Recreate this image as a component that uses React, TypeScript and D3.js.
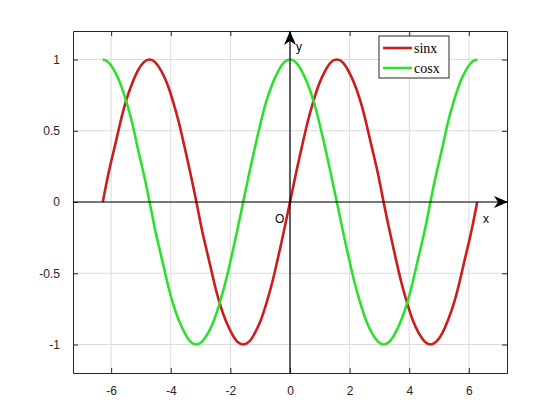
import { useEffect, useRef } from 'react';
import * as d3 from 'd3';

// sample points, step ~ pi/16
const xVals = [
  -6.28, -6.09, -5.89, -5.69, -5.5, -5.3, -5.11, -4.91, -4.71, -4.52, -4.32, -4.12, -3.93, -3.73, -3.53, -3.34,
  -3.14, -2.95, -2.75, -2.55, -2.36, -2.16, -1.96, -1.77, -1.57, -1.37, -1.18, -0.98, -0.79, -0.59, -0.39, -0.2,
  0, 0.2, 0.39, 0.59, 0.79, 0.98, 1.18, 1.37, 1.57, 1.77, 1.96, 2.16, 2.36, 2.55, 2.75, 2.95,
  3.14, 3.34, 3.53, 3.73, 3.93, 4.12, 4.32, 4.52, 4.71, 4.91, 5.11, 5.3, 5.5, 5.69, 5.89, 6.09, 6.28];
const sinVals = [
  0, 0.2, 0.38, 0.56, 0.71, 0.83, 0.92, 0.98, 1, 0.98, 0.92, 0.83, 0.71, 0.56, 0.38, 0.2,
  0, -0.2, -0.38, -0.56, -0.71, -0.83, -0.92, -0.98, -1, -0.98, -0.92, -0.83, -0.71, -0.56, -0.38, -0.2,
  0, 0.2, 0.38, 0.56, 0.71, 0.83, 0.92, 0.98, 1, 0.98, 0.92, 0.83, 0.71, 0.56, 0.38, 0.2,
  0, -0.2, -0.38, -0.56, -0.71, -0.83, -0.92, -0.98, -1, -0.98, -0.92, -0.83, -0.71, -0.56, -0.38, -0.2, 0];
const cosVals = [
  1, 0.98, 0.92, 0.83, 0.71, 0.56, 0.38, 0.2, 0, -0.2, -0.38, -0.56, -0.71, -0.83, -0.92, -0.98,
  -1, -0.98, -0.92, -0.83, -0.71, -0.56, -0.38, -0.2, 0, 0.2, 0.38, 0.56, 0.71, 0.83, 0.92, 0.98,
  1, 0.98, 0.92, 0.83, 0.71, 0.56, 0.38, 0.2, 0, -0.2, -0.38, -0.56, -0.71, -0.83, -0.92, -0.98,
  -1, -0.98, -0.92, -0.83, -0.71, -0.56, -0.38, -0.2, 0, 0.2, 0.38, 0.56, 0.71, 0.83, 0.92, 0.98, 1];
const xTicks = [-6, -4, -2, 0, 2, 4, 6];
const yTicks = [-1, -0.5, 0, 0.5, 1];
const seriesNames = ['sinx', 'cosx'];
const seriesColors = ['#cc1c1c', '#2ee02e'];

type Pt = { x: number; s: number; c: number };

const App = () => {
  const svgRef = useRef<SVGSVGElement>(null);

  useEffect(() => {
    if (!svgRef.current) return;
    const width = 560;
    const height = 420;
    const margin = { top: 31, right: 53, bottom: 47, left: 73 };
    const innerWidth = width - margin.left - margin.right;
    const innerHeight = height - margin.top - margin.bottom;

    d3.select(svgRef.current).selectAll('*').remove();
    const root = d3.select(svgRef.current).attr('width', width).attr('height', height);
    root.append('rect').attr('width', width).attr('height', height).attr('fill', '#fff');

    const defs = root.append('defs');
    defs.append('marker')
      .attr('id', 'arrow')
      .attr('viewBox', '0 0 14 12')
      .attr('refX', 14)
      .attr('refY', 6)
      .attr('markerWidth', 14)
      .attr('markerHeight', 12)
      .attr('markerUnits', 'userSpaceOnUse')
      .attr('orient', 'auto')
      .append('path')
      .attr('d', 'M0,0 L14,6 L0,12 L4,6 Z')
      .attr('fill', '#000');

    const svg = root.append('g').attr('transform', `translate(${margin.left},${margin.top})`);

    const xScale = d3.scaleLinear().domain([-7.28, 7.28]).range([0, innerWidth]);
    const yScale = d3.scaleLinear().domain([-1.2, 1.2]).range([innerHeight, 0]);

    // grid
    svg.append('g')
      .selectAll('line')
      .data(xTicks)
      .enter()
      .append('line')
      .attr('x1', d => xScale(d)).attr('x2', d => xScale(d))
      .attr('y1', 0).attr('y2', innerHeight)
      .attr('stroke', '#dcdcdc').attr('stroke-width', 1);
    svg.append('g')
      .selectAll('line')
      .data(yTicks)
      .enter()
      .append('line')
      .attr('y1', d => yScale(d)).attr('y2', d => yScale(d))
      .attr('x1', 0).attr('x2', innerWidth)
      .attr('stroke', '#dcdcdc').attr('stroke-width', 1);

    // axes with inward ticks, box on
    const styleAxis = (g: d3.Selection<SVGGElement, unknown, null, undefined>) => {
      g.select('.domain').attr('stroke', '#262626');
      g.selectAll('.tick line').attr('stroke', '#262626');
      g.selectAll('text').attr('fill', '#262626').style('font-family', 'Liberation Sans, Arial, sans-serif').style('font-size', '12px');
    };
    svg.append('g')
      .attr('transform', `translate(0,${innerHeight})`)
      .call(d3.axisBottom(xScale).tickValues(xTicks).tickSizeInner(-5).tickSizeOuter(0).tickPadding(13).tickFormat(d => String(d)))
      .call(styleAxis);
    svg.append('g')
      .call(d3.axisTop(xScale).tickValues(xTicks).tickSizeInner(-5).tickSizeOuter(0).tickFormat(() => ''))
      .call(styleAxis);
    svg.append('g')
      .call(d3.axisLeft(yScale).tickValues(yTicks).tickSizeInner(-5).tickSizeOuter(0).tickPadding(13).tickFormat(d => String(d)))
      .call(styleAxis);
    svg.append('g')
      .attr('transform', `translate(${innerWidth},0)`)
      .call(d3.axisRight(yScale).tickValues(yTicks).tickSizeInner(-5).tickSizeOuter(0).tickFormat(() => ''))
      .call(styleAxis);

    // curves
    const points: Pt[] = xVals.map((x, i) => ({ x, s: sinVals[i], c: cosVals[i] }));
    const sinLine = d3.line<Pt>().x(d => xScale(d.x)).y(d => yScale(d.s)).curve(d3.curveNatural);
    const cosLine = d3.line<Pt>().x(d => xScale(d.x)).y(d => yScale(d.c)).curve(d3.curveNatural);
    svg.append('path').datum(points).attr('fill', 'none').attr('stroke', seriesColors[0]).attr('stroke-width', 2.6).attr('d', sinLine);
    svg.append('path').datum(points).attr('fill', 'none').attr('stroke', seriesColors[1]).attr('stroke-width', 2.6).attr('d', cosLine);

    // coordinate arrows
    svg.append('line')
      .attr('x1', 0).attr('x2', innerWidth + 1)
      .attr('y1', yScale(0)).attr('y2', yScale(0))
      .attr('stroke', '#000').attr('stroke-width', 1.2)
      .attr('marker-end', 'url(#arrow)');
    svg.append('line')
      .attr('x1', xScale(0)).attr('x2', xScale(0))
      .attr('y1', innerHeight).attr('y2', 0)
      .attr('stroke', '#000').attr('stroke-width', 1.2)
      .attr('marker-end', 'url(#arrow)');

    const labelFont = 'Liberation Sans, Arial, sans-serif';
    svg.append('text').attr('x', xScale(0) + 6).attr('y', 20).text('y')
      .style('font-family', labelFont).style('font-size', '12px').attr('fill', '#000');
    svg.append('text').attr('x', innerWidth - 24).attr('y', yScale(0) + 21).text('x')
      .style('font-family', labelFont).style('font-size', '12px').attr('fill', '#000');
    svg.append('text').attr('x', xScale(0) - 15).attr('y', yScale(0) + 21).text('O')
      .style('font-family', labelFont).style('font-size', '12px').attr('fill', '#000');

    // legend
    const legend = svg.append('g').attr('transform', `translate(${379 - margin.left},${36 - margin.top})`);
    legend.append('rect').attr('width', 70).attr('height', 42)
      .attr('fill', '#fff').attr('stroke', '#262626').attr('stroke-width', 1);
    seriesNames.forEach((name, i) => {
      const y = 12 + i * 20;
      legend.append('line').attr('x1', 4).attr('x2', 33).attr('y1', y).attr('y2', y)
        .attr('stroke', seriesColors[i]).attr('stroke-width', 2.6);
      legend.append('text').attr('x', 35).attr('y', y + 4.5).text(name)
        .style('font-family', 'Liberation Serif, Times New Roman, serif').style('font-size', '14px').attr('fill', '#000');
    });
  }, []);

  return (
    <svg ref={svgRef} style={{ position: 'absolute', left: 0, top: 0 }} role="img" aria-label="sin x and cos x curves"></svg>
  );
};

export default App;
